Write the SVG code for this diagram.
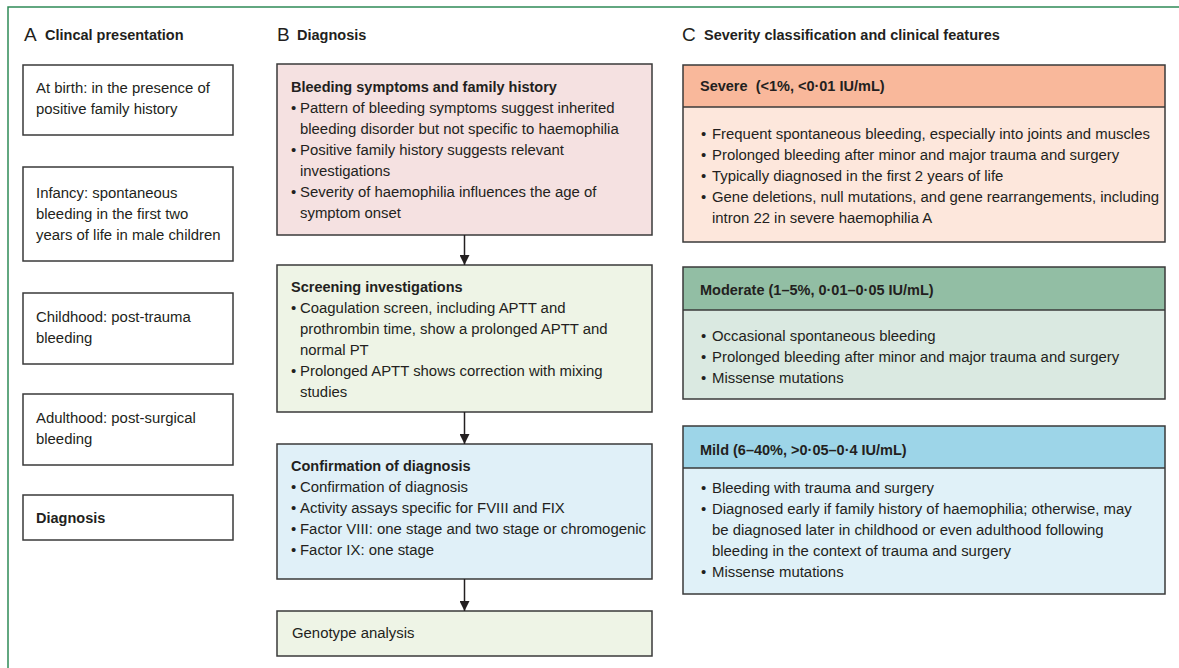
<svg xmlns="http://www.w3.org/2000/svg" width="1179" height="668" viewBox="0 0 1179 668">
<style>
text{font-family:"Liberation Sans",Arial,sans-serif;fill:#231f20;font-size:14.9px;white-space:pre}
.h{font-weight:bold;font-size:14.5px}
.L{font-size:19px}
.box{stroke:#3a3a3a;stroke-width:1.5}
.w{fill:#fff}
.pink{fill:#f5e1e1}
.lg{fill:#eef4e6}
.lb{fill:#e0f0f8}
.sevH{fill:#f9b89b}.sevB{fill:#fde7dc}
.modH{fill:#92bea4}.modB{fill:#dae9e1}
.milH{fill:#9dd5e8}.milB{fill:#e0f1f8}
.conn{stroke:#231f20;stroke-width:1.5;fill:none}
</style>
<defs>
<marker id="ah" viewBox="0 0 10 10" refX="10" refY="5" markerWidth="10" markerHeight="10" markerUnits="userSpaceOnUse" orient="auto">
<path d="M0,0 L10,5 L0,10 Z" fill="#231f20"/>
</marker>
</defs>
<rect width="1179" height="668" fill="#fff"/>
<g id="frame"><path d="M8,668 V7 H1179" fill="none" stroke="#2f8a57" stroke-width="1.5"/></g>

<g id="headers">
<text x="24" y="41" class="L">A</text><text x="45" y="40" class="h">Clincal presentation</text>
<text x="277" y="41" class="L">B</text><text x="297" y="40" class="h">Diagnosis</text>
<text x="682" y="41" class="L">C</text><text x="704" y="40" class="h">Severity classification and clinical features</text>
</g>

<g id="a1"><rect class="box w" x="23" y="65" width="210" height="70"/>
<text x="36" y="93">At birth: in the presence of</text><text x="36" y="114">positive family history</text></g>
<g id="a2"><rect class="box w" x="23" y="167" width="210" height="94"/>
<text x="36" y="198">Infancy: spontaneous</text><text x="36" y="219">bleeding in the first two</text><text x="36" y="240">years of life in male children</text></g>
<g id="a3"><rect class="box w" x="23" y="293" width="210" height="71"/>
<text x="36" y="322">Childhood: post-trauma</text><text x="36" y="343">bleeding</text></g>
<g id="a4"><rect class="box w" x="23" y="394" width="210" height="71"/>
<text x="36" y="423">Adulthood: post-surgical</text><text x="36" y="444">bleeding</text></g>
<g id="a5"><rect class="box w" x="23" y="495" width="210" height="45"/>
<text x="36" y="523" class="h">Diagnosis</text></g>

<g id="b1"><rect class="box pink" x="277" y="64" width="375" height="171"/>
<text x="291" y="92" class="h">Bleeding symptoms and family history</text>
<text x="291" y="113">•</text><text x="300" y="113">Pattern of bleeding symptoms suggest inherited</text>
<text x="300" y="134">bleeding disorder but not specific to haemophilia</text>
<text x="291" y="155">•</text><text x="300" y="155">Positive family history suggests relevant</text>
<text x="300" y="176">investigations</text>
<text x="291" y="197">•</text><text x="300" y="197">Severity of haemophilia influences the age of</text>
<text x="300" y="218">symptom onset</text></g>

<g id="b2"><rect class="box lg" x="277" y="265" width="375" height="147"/>
<text x="291" y="292" class="h">Screening investigations</text>
<text x="291" y="313">•</text><text x="300" y="313">Coagulation screen, including APTT and</text>
<text x="300" y="334">prothrombin time, show a prolonged APTT and</text>
<text x="300" y="355">normal PT</text>
<text x="291" y="376">•</text><text x="300" y="376">Prolonged APTT shows correction with mixing</text>
<text x="300" y="397">studies</text></g>

<g id="b3"><rect class="box lb" x="277" y="444" width="375" height="135"/>
<text x="291" y="471" class="h">Confirmation of diagnosis</text>
<text x="291" y="492">•</text><text x="300" y="492">Confirmation of diagnosis</text>
<text x="291" y="513">•</text><text x="300" y="513">Activity assays specific for FVIII and FIX</text>
<text x="291" y="534">•</text><text x="300" y="534">Factor VIII: one stage and two stage or chromogenic</text>
<text x="291" y="555">•</text><text x="300" y="555">Factor IX: one stage</text></g>

<g id="b4"><rect class="box lg" x="277" y="611" width="375" height="45"/>
<text x="292" y="638">Genotype analysis</text></g>

<g id="c1">
<rect class="sevB" x="683" y="65" width="482" height="177"/>
<rect class="sevH" x="683" y="65" width="482" height="42"/>
<line class="box" x1="683" y1="107" x2="1165" y2="107"/>
<rect class="box" fill="none" x="683" y="65" width="482" height="177"/>
<text x="700" y="91" class="h">Severe  (&lt;1%, &lt;0·01 IU/mL)</text>
<text x="701" y="139">•</text><text x="712" y="139">Frequent spontaneous bleeding, especially into joints and muscles</text>
<text x="701" y="160">•</text><text x="712" y="160">Prolonged bleeding after minor and major trauma and surgery</text>
<text x="701" y="181">•</text><text x="712" y="181">Typically diagnosed in the first 2 years of life</text>
<text x="701" y="202">•</text><text x="712" y="202">Gene deletions, null mutations, and gene rearrangements, including</text>
<text x="712" y="223">intron 22 in severe haemophilia A</text>
</g>

<g id="c2">
<rect class="modB" x="683" y="267" width="482" height="132"/>
<rect class="modH" x="683" y="267" width="482" height="43"/>
<line class="box" x1="683" y1="310" x2="1165" y2="310"/>
<rect class="box" fill="none" x="683" y="267" width="482" height="132"/>
<text x="700" y="295" class="h">Moderate (1–5%, 0·01–0·05 IU/mL)</text>
<text x="701" y="341">•</text><text x="712" y="341">Occasional spontaneous bleeding</text>
<text x="701" y="362">•</text><text x="712" y="362">Prolonged bleeding after minor and major trauma and surgery</text>
<text x="701" y="383">•</text><text x="712" y="383">Missense mutations</text>
</g>

<g id="c3">
<rect class="milB" x="683" y="426" width="482" height="168"/>
<rect class="milH" x="683" y="426" width="482" height="42"/>
<line class="box" x1="683" y1="468" x2="1165" y2="468"/>
<rect class="box" fill="none" x="683" y="426" width="482" height="168"/>
<text x="700" y="455" class="h">Mild (6–40%, &gt;0·05–0·4 IU/mL)</text>
<text x="701" y="493">•</text><text x="712" y="493">Bleeding with trauma and surgery</text>
<text x="701" y="514">•</text><text x="712" y="514">Diagnosed early if family history of haemophilia; otherwise, may</text>
<text x="712" y="535">be diagnosed later in childhood or even adulthood following</text>
<text x="712" y="556">bleeding in the context of trauma and surgery</text>
<text x="701" y="577">•</text><text x="712" y="577">Missense mutations</text>
</g>

<g id="connectors">
<line class="conn" x1="464.5" y1="235" x2="464.5" y2="265" marker-end="url(#ah)"/>
<line class="conn" x1="464.5" y1="412" x2="464.5" y2="444" marker-end="url(#ah)"/>
<line class="conn" x1="464.5" y1="579" x2="464.5" y2="611" marker-end="url(#ah)"/>
</g>
</svg>
